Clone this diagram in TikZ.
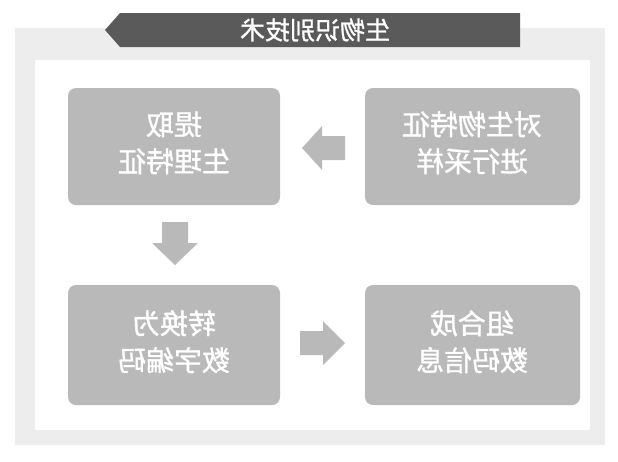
\documentclass[tikz,border=0pt]{standalone}
\usepackage{fontspec}
\newfontfamily\cjk[FakeBold=1.2]{Noto Sans CJK SC}
\usetikzlibrary{shapes.arrows}
\definecolor{boxg}{HTML}{B9B9B9}
\definecolor{darkg}{HTML}{5A5A5A}
\definecolor{frameg}{HTML}{EDEDED}
\begin{document}
\begin{tikzpicture}[x=1pt,y=-1pt,
  box/.style={fill=boxg,rounded corners=8pt,draw=none},
  lbl/.style={text=white,font=\cjk\fontsize{28}{37}\selectfont,align=center}]
\useasboundingbox (0,0) rectangle (618,461);
\fill[white] (0,0) rectangle (618,461);
\fill[frameg] (15,28) rectangle (605,445);
\fill[white] (35,60) rectangle (590,430);
% title banner
\fill[darkg] (105,30) -- (120,13) -- (520,13) -- (520,47) -- (120,47) -- cycle;
\node[text=white,font=\cjk\fontsize{25}{28}\selectfont] (title) at (315,30) {\scalebox{-1}[1]{生物识别技术}};
% boxes
\fill[box] (68,88) rectangle (280,205);
\fill[box] (365,88) rectangle (580,205);
\fill[box] (68,285) rectangle (280,405);
\fill[box] (365,285) rectangle (580,405);
\node[lbl] (a) at (472,146) {\scalebox{-1}[1]{\begin{tabular}{c}对生物特征\\进行采样\end{tabular}}};
\node[lbl] (b) at (174,146) {\scalebox{-1}[1]{\begin{tabular}{c}提取\\生理特征\end{tabular}}};
\node[lbl] (c) at (174,345) {\scalebox{-1}[1]{\begin{tabular}{c}转换为\\数字编码\end{tabular}}};
\node[lbl] (d) at (472,345) {\scalebox{-1}[1]{\begin{tabular}{c}组合成\\数码信息\end{tabular}}};
% arrows
\fill[boxg] (302,148) -- (322,126) -- (322,136) -- (345,136) -- (345,160) -- (322,160) -- (322,170) -- cycle;
\fill[boxg] (175,265) -- (152,243) -- (162,243) -- (162,222) -- (188,222) -- (188,243) -- (198,243) -- cycle;
\fill[boxg] (345,343) -- (323,321) -- (323,331) -- (300,331) -- (300,355) -- (323,355) -- (323,365) -- cycle;
\end{tikzpicture}
\end{document}
